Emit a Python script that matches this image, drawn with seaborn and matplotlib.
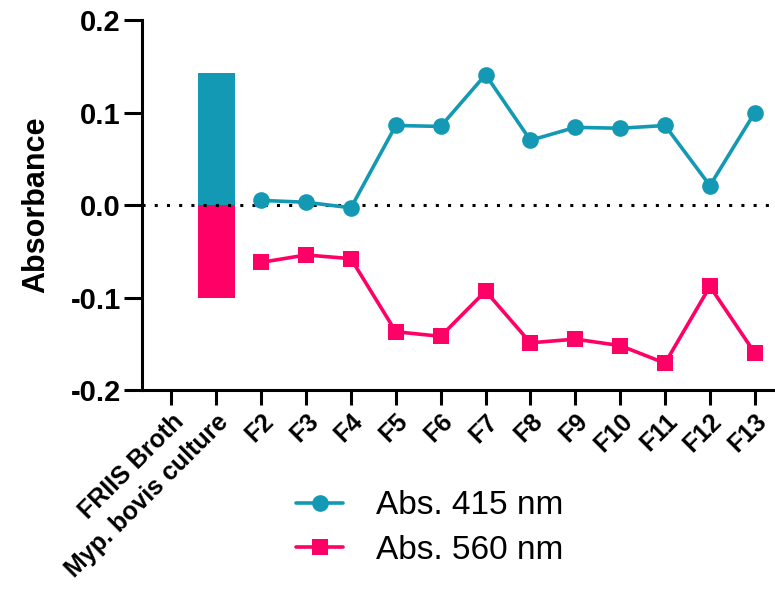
import matplotlib
matplotlib.use("Agg")
import matplotlib.pyplot as plt
import numpy as np
import pandas as pd
import seaborn as sns

# categories on the x axis
categories = ["FRIIS Broth", "Myp. bovis culture",
              "F2", "F3", "F4", "F5", "F6", "F7", "F8", "F9",
              "F10", "F11", "F12", "F13"]

# control bar (Myp. bovis culture)
bar_cat = [categories[1]]
bar_415 = [0.143]
bar_560 = [-0.101]

# fraction readings
abs_415 = [0.005, 0.003, -0.003, 0.086, 0.085, 0.141, 0.070, 0.084, 0.083, 0.086, 0.021, 0.100]
abs_560 = [-0.062, -0.054, -0.058, -0.137, -0.142, -0.093, -0.149, -0.145, -0.152, -0.171, -0.088, -0.160]

teal = "#1399b4"
pink = "#ff0066"

sns.set_style("ticks")
plt.rcParams["font.family"] = ["Liberation Sans", "DejaVu Sans"]
plt.rcParams["text.color"] = "black"
plt.rcParams["axes.labelcolor"] = "black"
plt.rcParams["xtick.color"] = "black"
plt.rcParams["ytick.color"] = "black"

fig = plt.figure(figsize=(7.75, 5.9), dpi=100)
ax = fig.add_axes([0.183, 0.339, 0.817, 0.627])

df_bar = pd.DataFrame({"cat": bar_cat, "a415": bar_415, "a560": bar_560})
sns.barplot(data=df_bar, x="cat", y="a415", order=categories, color=teal,
            saturation=1, width=0.82, linewidth=0, ax=ax)
sns.barplot(data=df_bar, x="cat", y="a560", order=categories, color=pink,
            saturation=1, width=0.82, linewidth=0, ax=ax)

ax.axhline(0, color="black", ls=(0, (1, 3)), lw=2.2, zorder=1)

xpos = np.arange(2, len(categories))
sns.lineplot(x=xpos, y=abs_415, color=teal, lw=2.6, marker="o", markersize=12,
             markeredgewidth=0, label="Abs. 415 nm", ax=ax, zorder=3)
sns.lineplot(x=xpos, y=abs_560, color=pink, lw=2.6, marker="s", markersize=11,
             markeredgewidth=0, label="Abs. 560 nm", ax=ax, zorder=3)

ax.set_xlim(-0.66, 13.45)
ax.set_ylim(-0.2, 0.2)
ax.set_yticks([-0.2, -0.1, 0.0, 0.1, 0.2])
ax.set_yticklabels(["-0.2", "-0.1", "0.0", "0.1", "0.2"], fontsize=21, fontweight="bold")
ax.set_xticks(range(len(categories)))
ax.set_xticklabels(categories, rotation=45, ha="right", rotation_mode="anchor",
                   fontsize=18, fontweight="bold")
ax.set_xlabel("")
ax.set_ylabel("Absorbance", fontsize=22, fontweight="bold", labelpad=14)

for s in ["top", "right"]:
    ax.spines[s].set_visible(False)
for s in ["left", "bottom"]:
    ax.spines[s].set_linewidth(2.2)
    ax.spines[s].set_color("black")
ax.tick_params(axis="y", length=13, width=2.2, pad=2)
ax.tick_params(axis="x", length=11, width=2.2, pad=3)

ax.legend(loc="center", bbox_to_anchor=(0.555, 0.105), bbox_transform=fig.transFigure,
          frameon=False, fontsize=24, handlelength=1.4, handletextpad=1.0,
          labelspacing=0.4)

fig.savefig("out.png", dpi=100)
